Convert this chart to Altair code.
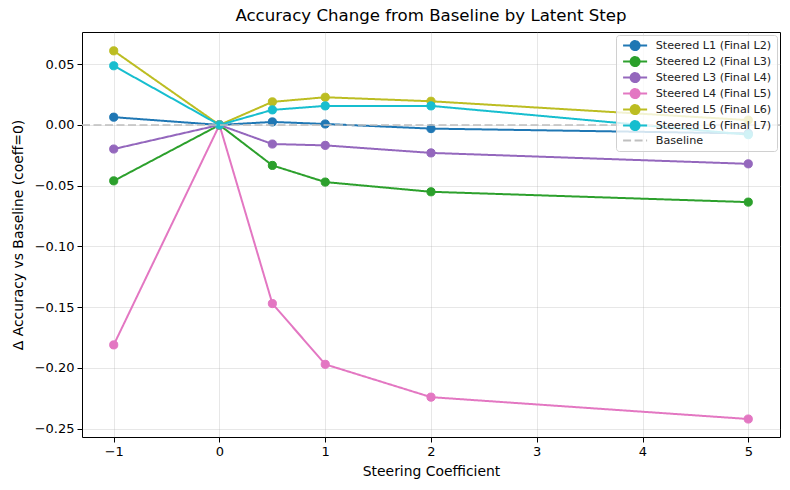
import altair as alt
import pandas as pd

coeffs = [-1, 0, 0.5, 1, 2, 5]
series_names = [
    "Steered L1 (Final L2)",
    "Steered L2 (Final L3)",
    "Steered L3 (Final L4)",
    "Steered L4 (Final L5)",
    "Steered L5 (Final L6)",
    "Steered L6 (Final L7)",
]
values = {
    "Steered L1 (Final L2)": [0.0064, 0.0, 0.0025, 0.0008, -0.003, -0.007],
    "Steered L2 (Final L3)": [-0.046, 0.0, -0.0333, -0.047, -0.055, -0.0635],
    "Steered L3 (Final L4)": [-0.0198, 0.0, -0.0157, -0.0168, -0.023, -0.032],
    "Steered L4 (Final L5)": [-0.181, 0.0, -0.147, -0.197, -0.224, -0.242],
    "Steered L5 (Final L6)": [0.061, 0.0, 0.019, 0.0228, 0.0195, 0.004],
    "Steered L6 (Final L7)": [0.0487, 0.0, 0.0124, 0.0157, 0.0157, -0.008],
}
colors = ["#1f77b4", "#2ca02c", "#9467bd", "#e377c2", "#bcbd22", "#17becf"]
baseline_name = "Baseline"
baseline_value = 0.0
baseline_color = "#bfbfbf"

rows = []
for s in series_names:
    for c, v in zip(coeffs, values[s]):
        rows.append({"series": s, "coeff": c, "delta": v})
df = pd.DataFrame(rows)

domain = series_names + [baseline_name]
crange = colors + [baseline_color]
line_circle = "M-2.67,0L2.67,0M-1,0A1,1 0 1,0 1,0A1,1 0 1,0 -1,0Z"
line_only = "M-2.67,0L2.67,0"
shape_range = [line_circle] * 6 + [line_only]
dash_range = [[1, 0]] * 6 + [[8, 3.5]]

legend = alt.Legend(
    title=None,
    orient="top-right",
    offset=3,
    labelFontSize=11.2,
    labelFont="DejaVu Sans",
    labelColor="#222222",
    symbolSize=81,
    symbolStrokeWidth=2,
    symbolOffset=8.5,
    labelOffset=15,
    rowPadding=-2,
    padding=5,
    strokeColor="#d0d0d0",
    fillColor="rgba(255,255,255,0.8)",
    cornerRadius=3,
)

stroke_scale = alt.Scale(domain=domain, range=crange)
fill_scale = alt.Scale(domain=domain, range=crange)
shape_scale = alt.Scale(domain=domain, range=shape_range)
dash_scale = alt.Scale(domain=domain, range=dash_range)

x_enc = alt.X(
    "coeff:Q",
    title="Steering Coefficient",
    scale=alt.Scale(domain=[-1.3, 5.3], nice=False, zero=False),
    axis=alt.Axis(values=[-1, 0, 1, 2, 3, 4, 5], format="d"),
)
y_enc = alt.Y(
    "delta:Q",
    title="Δ Accuracy vs Baseline (coeff=0)",
    scale=alt.Scale(domain=[-0.2568, 0.0765], nice=False, zero=False),
    axis=alt.Axis(values=[-0.25, -0.2, -0.15, -0.1, -0.05, 0.0, 0.05], format=".2f"),
)

lines = alt.Chart(df).mark_line(strokeWidth=2).encode(
    x=x_enc,
    y=y_enc,
    stroke=alt.Stroke("series:N", scale=stroke_scale, legend=legend),
    strokeDash=alt.StrokeDash("series:N", scale=dash_scale, legend=legend),
    detail="series:N",
)

points = alt.Chart(df).mark_point(
    filled=True, shape="circle", size=66, opacity=1, strokeWidth=1
).encode(
    x="coeff:Q",
    y="delta:Q",
    fill=alt.Fill("series:N", scale=fill_scale, legend=legend),
    stroke=alt.Stroke("series:N", scale=stroke_scale, legend=legend),
)

legend_shapes = alt.Chart(df).transform_filter("false").mark_point(
    filled=True, opacity=1, strokeWidth=1
).encode(
    x="coeff:Q",
    y="delta:Q",
    fill=alt.Fill("series:N", scale=fill_scale, legend=legend),
    stroke=alt.Stroke("series:N", scale=stroke_scale, legend=legend),
    shape=alt.Shape("series:N", scale=shape_scale, legend=legend),
)

base_rule = alt.Chart(pd.DataFrame({"y": [baseline_value]})).mark_rule(strokeWidth=1.6).encode(
    y="y:Q",
    stroke=alt.datum(baseline_name),
    strokeDash=alt.datum(baseline_name),
)

chart = alt.layer(lines, points, legend_shapes, base_rule).properties(
    width=698,
    height=405,
    title=alt.TitleParams(
        "Accuracy Change from Baseline by Latent Step",
        fontSize=16.6,
        font="DejaVu Sans",
        fontWeight="normal",
        color="#000000",
        offset=7,
    ),
    autosize=alt.AutoSizeParams(type="none"),
    padding={"left": 74, "top": 24, "right": 2, "bottom": 45},
).configure_view(
    stroke="#000000", strokeWidth=1
).configure_axis(
    labelFont="DejaVu Sans",
    titleFont="DejaVu Sans",
    labelFontSize=13,
    titleFontSize=13.9,
    titleFontWeight="normal",
    labelColor="#000000",
    titleColor="#000000",
    gridColor="#b0b0b0",
    gridOpacity=0.3,
    gridWidth=1,
    domain=False,
    tickColor="#000000",
    tickSize=5,
    labelPadding=3,
).configure_axisX(titlePadding=6).configure_axisY(titlePadding=9)

chart.save("out.html", embed_options={"renderer": "svg", "actions": False})
